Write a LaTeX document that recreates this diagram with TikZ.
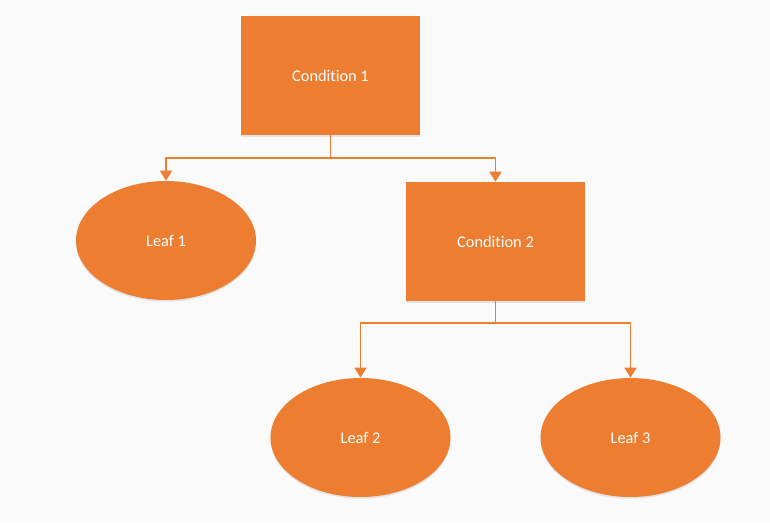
\documentclass[tikz,border=0pt]{standalone}
\usepackage{fontspec}
\setmainfont{Carlito}[Ligatures=NoCommon]
\usetikzlibrary{arrows.meta,shapes.geometric,shadows}
\definecolor{treeorange}{HTML}{ED7D31}
\definecolor{paper}{HTML}{FAFAFA}

\begin{document}
\begin{tikzpicture}[x=0.02cm,y=-0.02cm,
    every node/.style={fill=treeorange,text=white,inner sep=0pt,
        font=\fontsize{9.3}{11}\selectfont,
        drop shadow={shadow xshift=0pt,shadow yshift=-1pt,opacity=0.18}},
    cond/.style={rectangle,minimum width=3.58cm,minimum height=2.38cm},
    leaf/.style={ellipse,minimum width=3.6cm,minimum height=2.38cm},
    link/.style={draw=treeorange,line width=1pt,
        -{Triangle[length=0.2cm,width=0.24cm]}}]
    \fill[paper] (0,0) rectangle (770,522);

    \node[cond] (C1) at (330.5,75.5) {Condition 1};
    \node[cond] (C2) at (495.5,241.5) {Condition 2};
    \node[leaf] (L1) at (166,240.5) {Leaf 1};
    \node[leaf] (L2) at (360.5,437.5) {Leaf 2};
    \node[leaf] (L3) at (630.5,437.5) {Leaf 3};

    \coordinate (J1) at (330.5,158);
    \coordinate (J2) at (495.5,323);

    \draw[link,-] (C1.south) -- (J1);
    \draw[link,-] (C2.south) -- (J2);
    \foreach \a/\b in {J1/L1,J1/C2,J2/L2,J2/L3}{
        \draw[link] (\a) -| (\b.north);
    }
\end{tikzpicture}
\end{document}
